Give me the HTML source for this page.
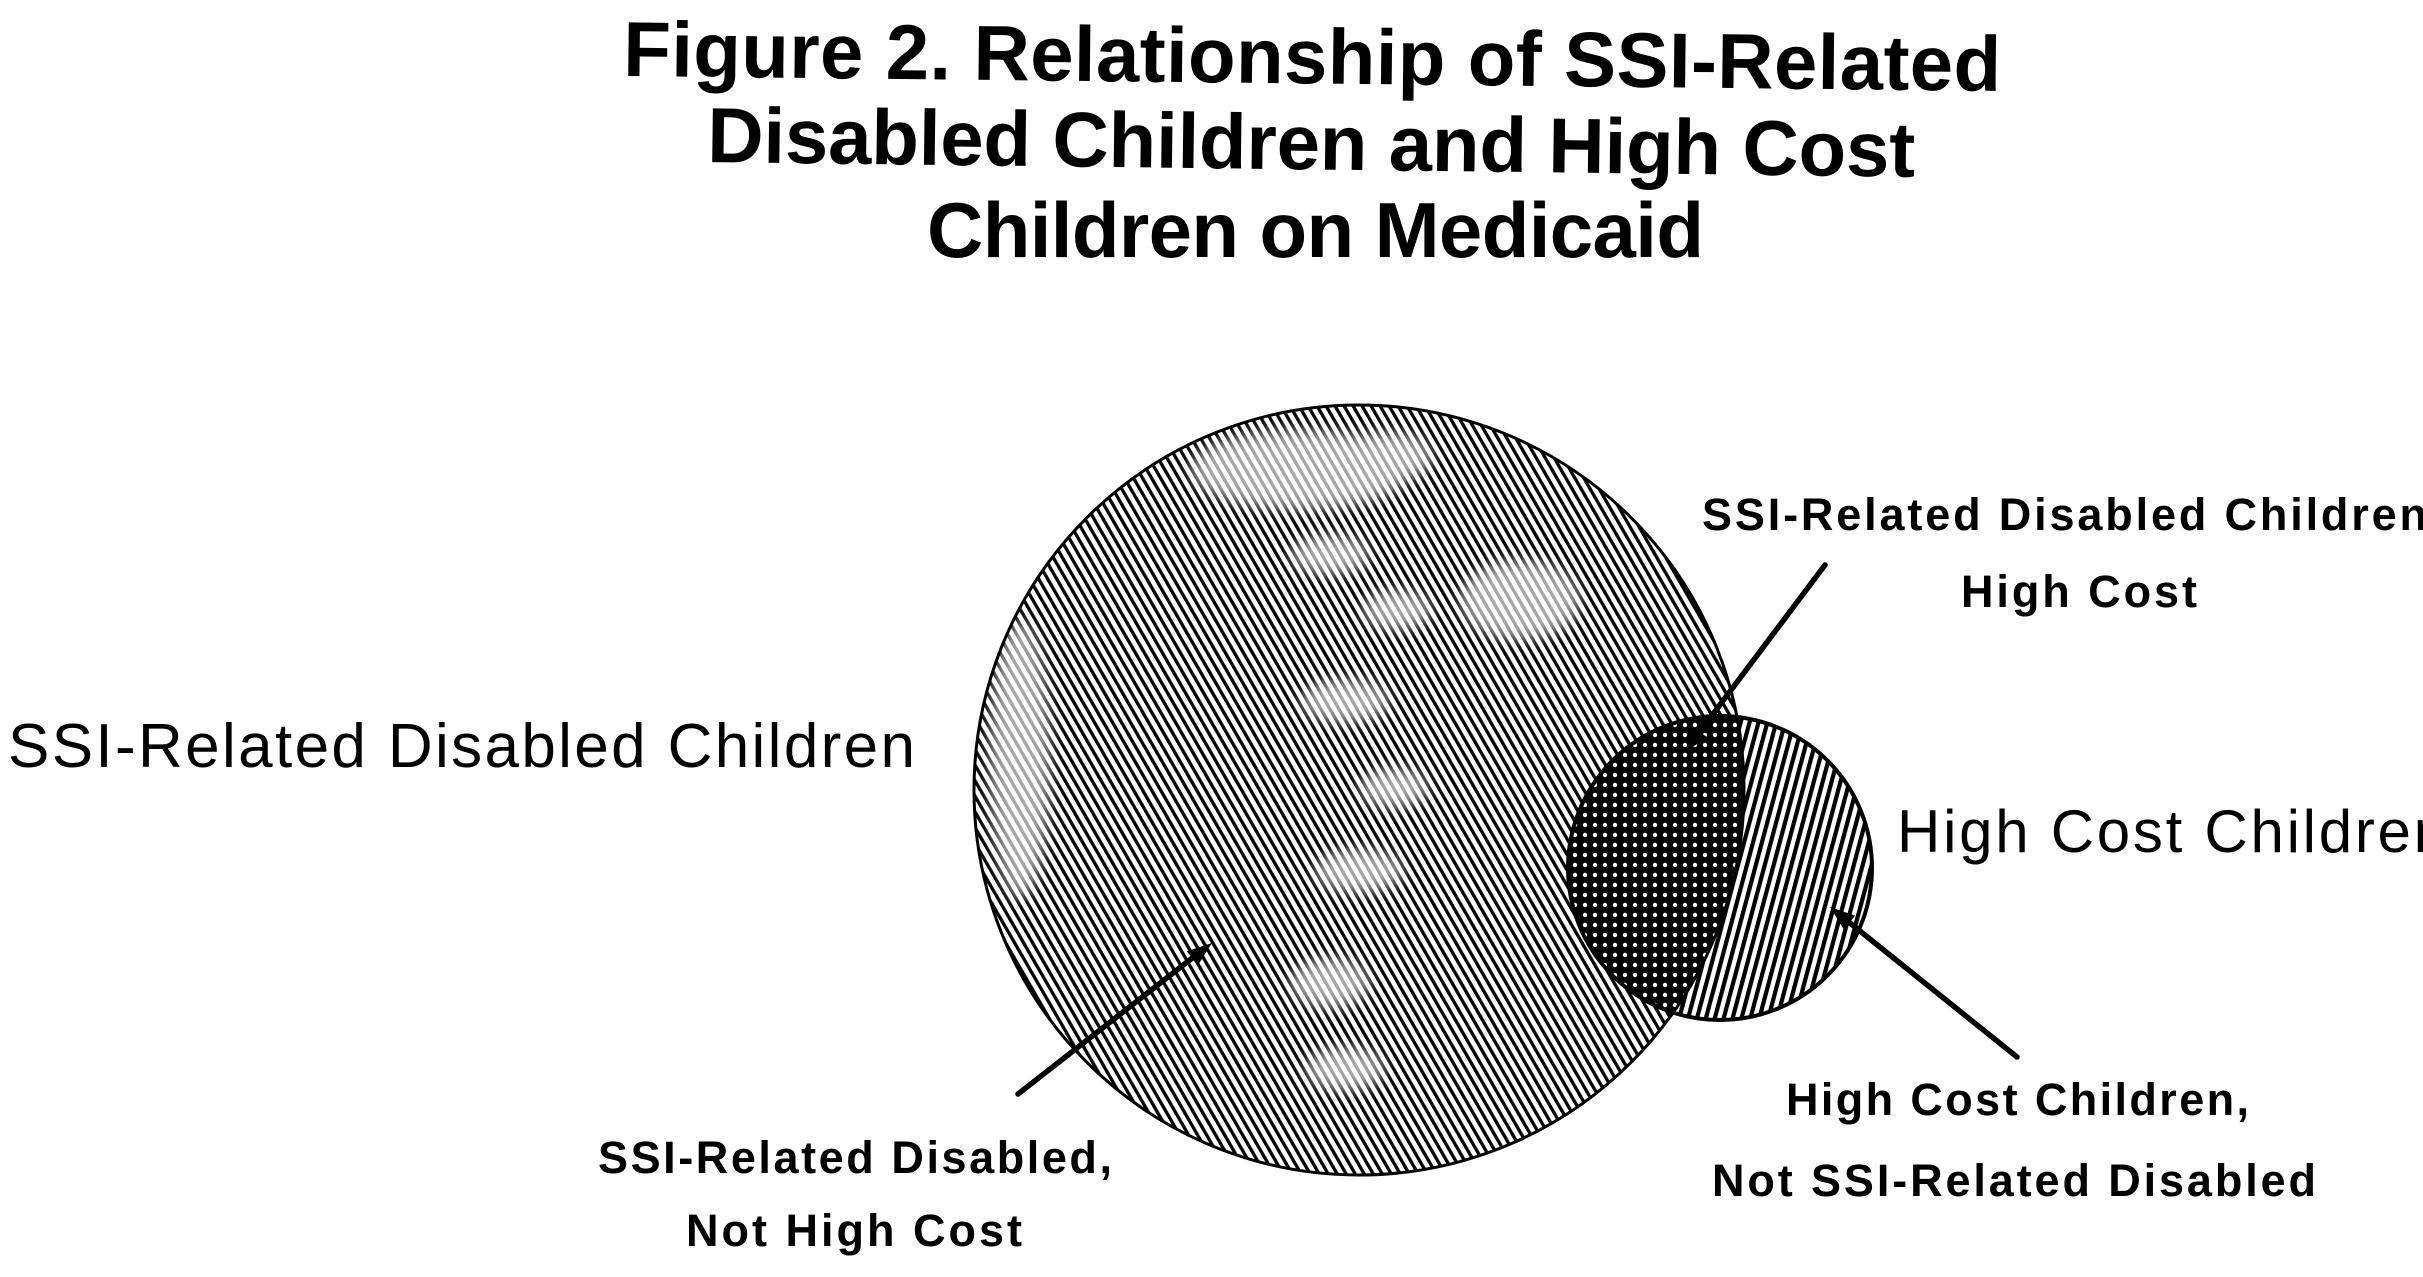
<!DOCTYPE html>
<html>
<head>
<meta charset="utf-8">
<style>
  html, body { margin: 0; padding: 0; background: #fff; }
  body { width: 2423px; height: 1277px; overflow: hidden; }
  svg { display: block; }
  .t { font-family: "Liberation Sans", Arial, sans-serif; font-weight: bold; font-size: 78px; fill: #000; }
  .big { font-family: "Liberation Sans", Arial, sans-serif; font-weight: normal; fill: #000; }
  .sm { font-family: "Liberation Sans", Arial, sans-serif; font-weight: bold; font-size: 45px; fill: #000; }
</style>
</head>
<body>
<svg width="2423" height="1277" viewBox="0 0 2423 1277" xmlns="http://www.w3.org/2000/svg">
  <defs>
    <pattern id="bigH" width="7.8" height="20" patternUnits="userSpaceOnUse" patternTransform="rotate(-30)">
      <rect x="0" y="0" width="3.3" height="20" fill="#000"/>
    </pattern>
    <pattern id="smH" width="8.6" height="20" patternUnits="userSpaceOnUse" patternTransform="rotate(15)">
      <rect x="0" y="0" width="4.2" height="20" fill="#000"/>
    </pattern>
    <pattern id="dots" width="10" height="10" patternUnits="userSpaceOnUse">
      <rect width="10" height="10" fill="#000"/>
      <circle cx="5" cy="5" r="2.2" fill="#fff"/>
    </pattern>
    <clipPath id="bigC"><circle cx="1359" cy="790" r="385"/></clipPath>
    <filter id="blur" x="-50%" y="-50%" width="200%" height="200%"><feGaussianBlur stdDeviation="8"/></filter>
  </defs>

  <!-- Title -->
  <text class="t" x="623" y="76" textLength="1378" lengthAdjust="spacing" transform="rotate(0.62 623 76)">Figure 2. Relationship of SSI-Related</text>
  <text class="t" x="707" y="162" textLength="1208" lengthAdjust="spacing" transform="rotate(0.7 707 162)">Disabled Children and High Cost</text>
  <text class="t" x="927" y="257" textLength="777" lengthAdjust="spacing">Children on Medicaid</text>

  <!-- Big circle -->
  <circle cx="1359" cy="790" r="385" fill="#fff"/>
  <circle cx="1359" cy="790" r="385" fill="url(#bigH)"/>
  <g clip-path="url(#bigC)" fill="#fff" opacity="0.65" filter="url(#blur)">
    <ellipse cx="1388" cy="457" rx="45" ry="25"/>
    <ellipse cx="1330" cy="555" rx="40" ry="20"/>
    <ellipse cx="1397" cy="610" rx="35" ry="20"/>
    <ellipse cx="1345" cy="701" rx="45" ry="22"/>
    <ellipse cx="1394" cy="788" rx="35" ry="20"/>
    <ellipse cx="1359" cy="871" rx="45" ry="22"/>
    <ellipse cx="1330" cy="983" rx="40" ry="25"/>
    <ellipse cx="1345" cy="1069" rx="40" ry="22"/>
    <ellipse cx="1300" cy="470" rx="110" ry="40"/>
    <ellipse cx="1020" cy="760" rx="30" ry="140"/>
    <ellipse cx="1520" cy="600" rx="60" ry="40"/>
  </g>

  <!-- Small circle -->
  <circle cx="1720" cy="868" r="152" fill="#fff"/>
  <circle cx="1720" cy="868" r="152" fill="url(#smH)"/>
  <!-- Intersection -->
  <g clip-path="url(#bigC)">
    <circle cx="1720" cy="868" r="152" fill="url(#dots)"/>
  </g>

  <!-- Outlines -->
  <circle cx="1359" cy="790" r="385" fill="none" stroke="#000" stroke-width="3"/>
  <circle cx="1720" cy="868" r="152" fill="none" stroke="#000" stroke-width="4"/>

  <!-- Arrows -->
  <g stroke="#000" stroke-width="5.5" stroke-linecap="round">
    <line x1="1018" y1="1094" x2="1200" y2="952"/>
    <line x1="1825" y1="565" x2="1692" y2="742"/>
    <line x1="2017" y1="1057" x2="1840" y2="915"/>
  </g>
  <g fill="#000">
    <polygon points="1212,943 1197.8,965.5 1186.8,951.3"/>
    <polygon points="1685,752 1707.2,737.4 1692.8,726.6"/>
    <polygon points="1830,907 1855.1,915.6 1843.9,929.6"/>
  </g>

  <!-- Labels -->
  <text class="big" x="8" y="767" font-size="62" textLength="907" lengthAdjust="spacing">SSI-Related Disabled Children</text>
  <text class="big" x="1897" y="852" font-size="60" textLength="550" lengthAdjust="spacing">High Cost Children</text>

  <text class="sm" x="1702" y="530" textLength="725" lengthAdjust="spacing">SSI-Related Disabled Children</text>
  <text class="sm" x="1961" y="607" textLength="236" lengthAdjust="spacing">High Cost</text>

  <text class="sm" x="598" y="1173" textLength="514" lengthAdjust="spacing">SSI-Related Disabled,</text>
  <text class="sm" x="686" y="1246" textLength="336" lengthAdjust="spacing">Not High Cost</text>

  <text class="sm" x="1786" y="1115" textLength="463" lengthAdjust="spacing">High Cost Children,</text>
  <text class="sm" x="1712" y="1196" textLength="604" lengthAdjust="spacing">Not SSI-Related Disabled</text>
</svg>
</body>
</html>
